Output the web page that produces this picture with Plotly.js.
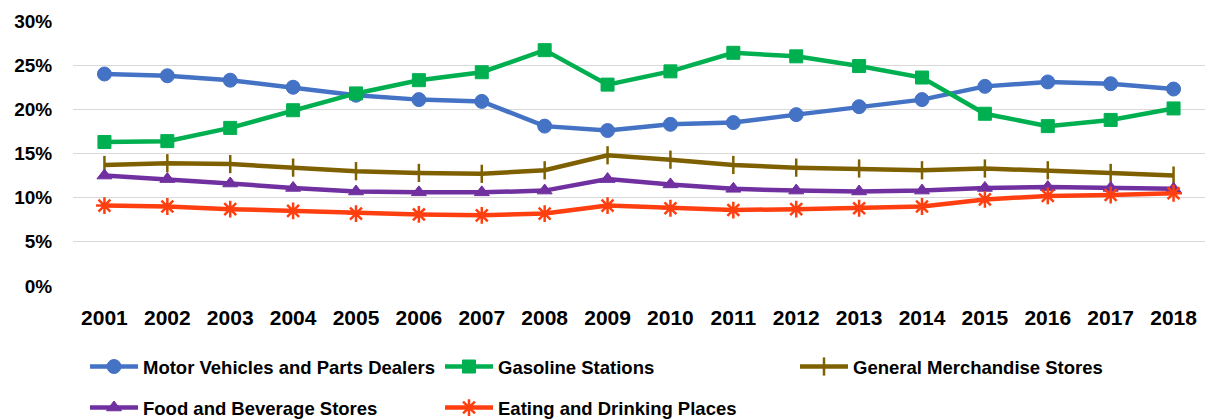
<!DOCTYPE html>
<html>
<head>
<meta charset="utf-8">
<script src="https://cdn.plot.ly/plotly-3.0.1.min.js"></script>
<style>
  html, body { margin: 0; padding: 0; background: #ffffff; }
  #chart { width: 1207px; height: 419px; }
</style>
</head>
<body>
<div id="chart"></div>
<script>
// Share of retail sales by store type, 2001-2018
const years = ['2001','2002','2003','2004','2005','2006','2007','2008','2009',
               '2010','2011','2012','2013','2014','2015','2016','2017','2018'];

const motorVehicles = [0.240,0.238,0.233,0.225,0.216,0.211,0.209,0.181,0.176,
                       0.183,0.185,0.194,0.203,0.211,0.226,0.231,0.229,0.223];
const gasoline      = [0.163,0.164,0.179,0.199,0.218,0.233,0.242,0.267,0.228,
                       0.243,0.264,0.260,0.249,0.236,0.195,0.181,0.188,0.201];
const generalMerch  = [0.137,0.139,0.138,0.134,0.130,0.128,0.127,0.131,0.148,
                       0.143,0.137,0.134,0.133,0.131,0.133,0.131,0.128,0.125];
const foodBeverage  = [0.125,0.121,0.116,0.111,0.107,0.106,0.106,0.108,0.121,
                       0.115,0.110,0.108,0.107,0.108,0.111,0.112,0.111,0.110];
const eatingDrinking= [0.091,0.090,0.087,0.085,0.082,0.081,0.080,0.082,0.091,
                       0.088,0.086,0.087,0.088,0.090,0.098,0.102,0.103,0.105];

const seriesNames = ['Motor Vehicles and Parts Dealers', 'Gasoline Stations',
                     'General Merchandise Stores', 'Food and Beverage Stores',
                     'Eating and Drinking Places'];

const yTicks = [0, 0.05, 0.10, 0.15, 0.20, 0.25, 0.30];
const yTickText = ['0%','5%','10%','15%','20%','25%','30%'];

function series(name, values, color, symbol, size, lineW, legendId) {
  return {
    type: 'scatter',
    mode: 'lines+markers',
    name: name,
    legend: legendId,
    x: years,
    y: values,
    line: { color: color, width: 4.5 },
    marker: { symbol: symbol, size: size, color: color,
              line: { color: color, width: lineW } },
    hoverinfo: 'x+y+name'
  };
}

// first legend row: three entries, second row: two entries
const traces = [
  series(seriesNames[0], motorVehicles,  '#4472C4', 'circle',        14, 1,   'legend'),
  series(seriesNames[1], gasoline,       '#00B050', 'square',        13, 1,   'legend'),
  series(seriesNames[2], generalMerch,   '#7F6000', 'line-ns-open',  13, 2.5, 'legend'),
  series(seriesNames[3], foodBeverage,   '#7030A0', 'triangle-up',   13, 1,   'legend2'),
  series(seriesNames[4], eatingDrinking, '#FF3F0F', 'asterisk-open', 14, 2.5, 'legend2')
];

const boldFont = (size) => ({ family: 'Liberation Sans, Arial, sans-serif', size: size,
                              color: '#000000', weight: 'bold' });

const legendCommon = {
  orientation: 'h',
  xref: 'container',
  yref: 'container',
  x: 85 / 1207,
  xanchor: 'left',
  yanchor: 'middle',
  itemwidth: 48,
  entrywidth: 292,
  font: boldFont(18.5),
  bgcolor: 'rgba(0,0,0,0)'
};

const layout = {
  width: 1207,
  height: 419,
  margin: { l: 73, r: 2, t: 21, b: 133, autoexpand: false },
  paper_bgcolor: '#ffffff',
  plot_bgcolor: '#ffffff',
  showlegend: true,
  xaxis: {
    type: 'category',
    range: [-0.5, 17.5],
    showgrid: false,
    zeroline: false,
    showline: false,
    ticks: 'outside',
    ticklen: 13,
    tickcolor: 'rgba(0,0,0,0)',
    tickfont: boldFont(21)
  },
  yaxis: {
    range: [0, 0.30],
    tickvals: yTicks,
    ticktext: yTickText,
    showgrid: true,
    gridcolor: '#d9d9d9',
    gridwidth: 1,
    zeroline: false,
    showline: false,
    ticks: 'outside',
    ticklen: 16,
    tickcolor: 'rgba(0,0,0,0)',
    tickfont: boldFont(19)
  },
  legend:  Object.assign({}, legendCommon, { y: 1 - 367 / 419 }),
  legend2: Object.assign({}, legendCommon, { y: 1 - 408 / 419 })
};

Plotly.newPlot('chart', traces, layout, { displayModeBar: false, staticPlot: true });
</script>
</body>
</html>
